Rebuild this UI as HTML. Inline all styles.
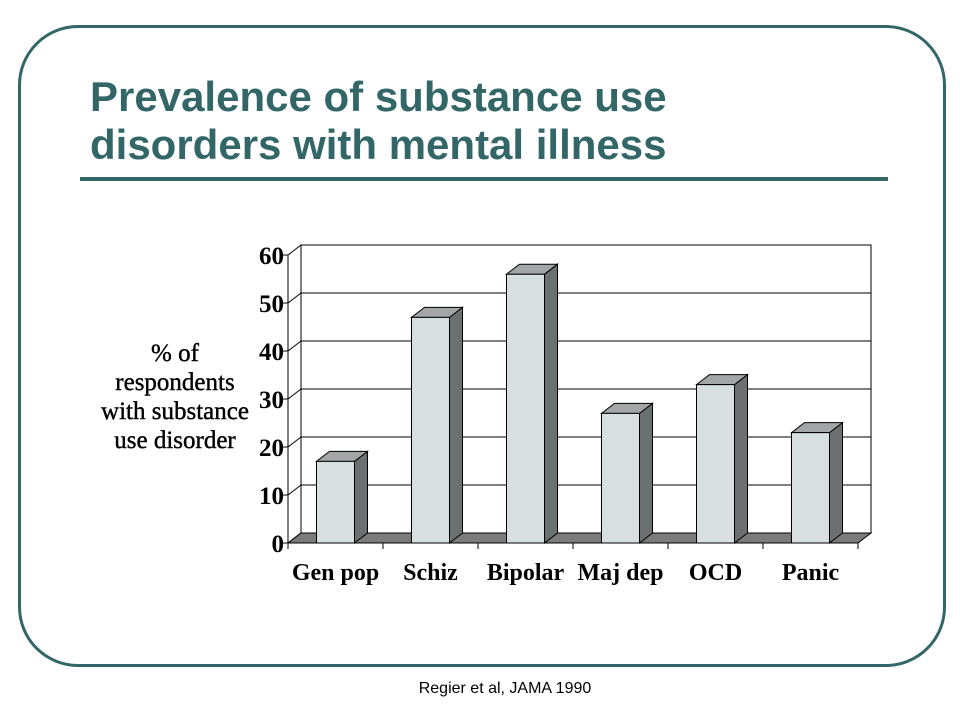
<!DOCTYPE html>
<html><head><meta charset="utf-8"><style>
body{margin:0;background:#fff;width:960px;height:720px;overflow:hidden;position:relative;font-family:"Liberation Sans",sans-serif}
.frame{position:absolute;left:18px;top:25px;width:922px;height:636px;border:3px solid #336666;border-radius:60px}
.title{position:absolute;left:90px;top:73px;font-size:42px;font-weight:bold;color:#336666;line-height:48px;white-space:nowrap}
.rule{position:absolute;left:80px;top:177px;width:808px;height:4px;background:#336666}
.ylab{position:absolute;left:85px;top:339px;width:180px;text-align:center;font-family:"Liberation Serif",serif;font-size:25px;line-height:29px;color:#000;-webkit-text-stroke:0.4px #000}
.foot{position:absolute;left:0;width:1010px;top:680px;text-align:center;font-size:16px;color:#000}
</style></head><body>
<div class="frame"></div>
<div class="title">Prevalence of substance use<br>disorders with mental illness</div>
<div class="rule"></div>
<div class="ylab">% of<br>respondents<br>with substance<br>use disorder</div>
<svg id="chart" width="960" height="720" style="position:absolute;left:0;top:0"></svg>
<div class="foot">Regier et al, JAMA 1990</div>
<script>
const categories=["Gen pop","Schiz","Bipolar","Maj dep","OCD","Panic"];
const values=[17,47,56,27,33,23];
const yTicks=[0,10,20,30,40,50,60];
const NS="http://www.w3.org/2000/svg";
const svg=document.getElementById('chart');
const x0=288,y0=543,unit=4.8,catW=95,dx=13,dy=-10,barW=38;
const ymax=60,xEnd=x0+catW*categories.length;
function Y(v){return y0-v*unit;}
function X(i){return x0+catW*i+catW/2;}
function el(t,a){const e=document.createElementNS(NS,t);for(const k in a)e.setAttribute(k,a[k]);svg.appendChild(e);return e;}
let w=el('polygon',{points:`${x0+dx},${Y(0)+dy} ${x0+dx},${Y(ymax)+dy} ${xEnd+dx},${Y(ymax)+dy} ${xEnd+dx},${Y(0)+dy}`,fill:'#fff',stroke:'#000','stroke-width':1});


yTicks.forEach(t=>{
  if(t>0){const g=el('line',{x1:x0+dx,x2:xEnd+dx,y1:Y(t)+dy,y2:Y(t)+dy,stroke:'#000','stroke-width':1});
  
  }
  const d=el('line',{x1:x0,x2:x0+dx,y1:Y(t),y2:Y(t)+dy,stroke:'#000','stroke-width':1});
  
  
  const tk=el('line',{x1:x0-5,x2:x0,y1:Y(t),y2:Y(t),stroke:'#000'});
  
  
  const tx=el('text',{x:x0-4,y:Y(t)+9,'text-anchor':'end','font-family':'Liberation Serif, serif','font-size':25,'font-weight':'bold'});
  tx.textContent=t;
  
  
});
const sw=el('line',{x1:x0+dx,x2:x0+dx,y1:Y(0)+dy,y2:Y(ymax)+dy,stroke:'#000'});


const fl=el('polygon',{points:`${x0},${Y(0)} ${x0+dx},${Y(0)+dy} ${xEnd+dx},${Y(0)+dy} ${xEnd},${Y(0)}`,fill:'#7b7b7b',stroke:'#000','stroke-width':1});


const ya=el('line',{x1:x0,x2:x0,y1:Y(0),y2:Y(ymax),stroke:'#000'});


const xa=el('line',{x1:x0,x2:xEnd,y1:Y(0),y2:Y(0),stroke:'#000'});


for(let i=0;i<=categories.length;i++){
  const t=el('line',{x1:x0+catW*i,x2:x0+catW*i,y1:Y(0),y2:Y(0)+6,stroke:'#000'});
  
  
}
categories.forEach((c,i)=>{
  const cx=X(i),l=cx-barW/2,r=cx+barW/2,top=Y(values[i]),b=Y(0);
  const g=document.createElementNS(NS,'g');svg.appendChild(g);
  
  
  const mk=(pts,f)=>{const p=document.createElementNS(NS,'polygon');p.setAttribute('points',pts);p.setAttribute('fill',f);p.setAttribute('stroke','#000');p.setAttribute('stroke-width','1');g.appendChild(p);};
  mk(`${r},${b} ${r+dx},${b+dy} ${r+dx},${top+dy} ${r},${top}`,'#6b7070');
  mk(`${l},${top} ${l+dx},${top+dy} ${r+dx},${top+dy} ${r},${top}`,'#a2a6a6');
  mk(`${l},${b} ${l},${top} ${r},${top} ${r},${b}`,'#d8dfe0');
  const tx=el('text',{x:cx,y:Y(0)+37,'text-anchor':'middle','font-family':'Liberation Serif, serif','font-size':24,'font-weight':'bold'});
  tx.textContent=c;
  
  
});
</script>
</body></html>
